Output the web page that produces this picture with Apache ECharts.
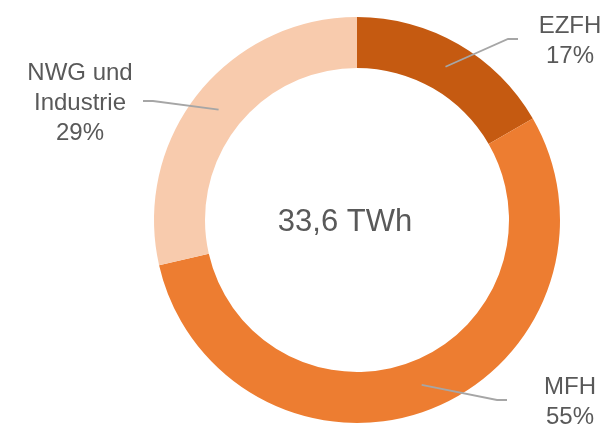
<!DOCTYPE html>
<html>
<head>
<meta charset="utf-8">
<script src="https://cdn.jsdelivr.net/npm/echarts@6/dist/echarts.min.js"></script>
<style>
  html, body { margin: 0; padding: 0; background: #ffffff; }
  #chart { width: 609px; height: 425px; }
</style>
</head>
<body>
<div id="chart"></div>
<script>
// ---- data ----
const categories = ['EZFH', 'MFH', 'NWG und\nIndustrie'];
const values = [5.6, 18.4, 9.6];          // TWh
const unit = 'TWh';

// ---- styles / layout ----
const colors = ['#C55A11', '#ED7D31', '#F8CBAD'];
const textColor = '#595959';
const fontFamily = 'Liberation Sans, Arial, sans-serif';
// label anchor positions (label block centre) and gap between line end and label centre
const labelPos = [
  { x: 570, y: 41, gap: 52 },
  { x: 570, y: 402, gap: 63 },
  { x: 80, y: 103, gap: 63 }
];

const total = values.reduce((a, b) => a + b, 0);
const totalText = total.toFixed(1).replace('.', ',') + ' ' + unit;
const pieData = categories.map((c, i) => ({ name: c, value: values[i] }));

const chart = echarts.init(document.getElementById('chart'), null, { renderer: 'canvas' });
chart.setOption({
  animation: false,
  backgroundColor: '#ffffff',
  title: {
    text: totalText,
    left: 345,
    top: 222,
    padding: 0,
    textAlign: 'center',
    textVerticalAlign: 'middle',
    textStyle: { color: textColor, fontSize: 31, fontWeight: 'normal', fontFamily: fontFamily }
  },
  series: [
    {
      // the ring
      type: 'pie',
      z: 2,
      center: [357, 220],
      radius: [152, 203],
      startAngle: 90,
      clockwise: true,
      silent: true,
      emphasis: { disabled: true },
      itemStyle: { borderWidth: 0, color: p => colors[p.dataIndex] },
      label: { show: false },
      labelLine: { show: false },
      data: pieData
    },
    {
      // invisible twin whose outer edge is the middle of the ring: carries labels and leader lines on top
      type: 'pie',
      z: 5,
      center: [357, 220],
      radius: [0, 177],
      startAngle: 90,
      clockwise: true,
      silent: true,
      avoidLabelOverlap: false,
      emphasis: { disabled: true },
      itemStyle: { color: 'rgba(0,0,0,0)', borderWidth: 0 },
      label: {
        show: true,
        position: 'outside',
        color: textColor,
        fontSize: 24,
        lineHeight: 30,
        fontFamily: fontFamily,
        align: 'center',
        formatter: p => p.name + '\n' + Math.round(p.value / total * 100) + '%'
      },
      labelLine: {
        show: true,
        length: 30,
        length2: 10,
        smooth: false,
        lineStyle: { color: '#A6A6A6', width: 1.8 }
      },
      labelLayout: function (params) {
        const p = params.labelLinePoints;
        const L = labelPos[params.dataIndex];
        if (!p || !L) return {};
        const start = p[0];
        const side = L.x > start[0] ? 1 : -1;
        const end = [L.x - side * L.gap, L.y - 2];
        const elbow = [end[0] - side * 10, L.y - 2];
        return {
          x: L.x,
          y: L.y,
          align: 'center',
          verticalAlign: 'middle',
          labelLinePoints: [start, elbow, end]
        };
      },
      data: pieData
    }
  ]
});
</script>
</body>
</html>
